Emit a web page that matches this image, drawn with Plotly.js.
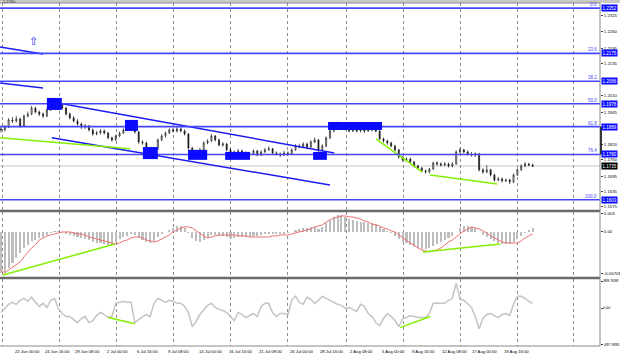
<!DOCTYPE html>
<html><head><meta charset="utf-8">
<script src="https://cdn.plot.ly/plotly-3.0.1.min.js"></script>
<style>html,body{margin:0;padding:0;background:#fff}#c{width:620px;height:357px}</style>
</head><body><div id="c"></div>
<script>
// ---- price data (8h bars) ----
const firstOpen = 1.1880;
const close = [1.1876,1.1887,1.1915,1.1911,1.1919,1.1891,1.1930,1.1938,1.1962,1.1946,
1.1938,1.1930,1.1954,1.1970,1.1989,1.1977,1.1962,1.1938,1.1923,1.1911,
1.1899,1.1887,1.1891,1.1876,1.1860,1.1864,1.1872,1.1864,1.1845,1.1837,
1.1852,1.1864,1.1876,1.1884,1.1899,1.1868,1.1829,1.1825,1.1805,1.1794,
1.1802,1.1837,1.1852,1.1864,1.1876,1.1872,1.1880,1.1872,1.1860,1.1805,
1.1786,1.1790,1.1798,1.1825,1.1833,1.1852,1.1837,1.1817,1.1821,1.1798,
1.1790,1.1786,1.1794,1.1786,1.1778,1.1782,1.1794,1.1778,1.1790,1.1798,
1.1802,1.1786,1.1782,1.1778,1.1786,1.1782,1.1798,1.1813,1.1809,1.1821,
1.1809,1.1829,1.1837,1.1798,1.1813,1.1845,1.1872,1.1891,1.1899,1.1895,
1.1880,1.1872,1.1876,1.1872,1.1876,1.1872,1.1880,1.1876,1.1872,1.1841,
1.1833,1.1825,1.1813,1.1798,1.1770,1.1759,1.1762,1.1751,1.1735,1.1727,
1.1716,1.1712,1.1723,1.1747,1.1743,1.1739,1.1743,1.1735,1.1743,1.1790,
1.1798,1.1790,1.1782,1.1778,1.1782,1.1720,1.1712,1.1720,1.1700,1.1680,
1.1684,1.1677,1.1680,1.1673,1.1700,1.1720,1.1735,1.1743,1.1739,1.1735];
const high = [1.1890,1.1895,1.1922,1.1926,1.1930,1.1924,1.1936,1.1948,1.1970,1.1966,
1.1952,1.1944,1.1960,1.1978,1.1997,1.1993,1.1982,1.1966,1.1944,1.1930,
1.1918,1.1905,1.1899,1.1896,1.1882,1.1872,1.1880,1.1878,1.1868,1.1850,
1.1858,1.1870,1.1882,1.1892,1.1905,1.1903,1.1872,1.1836,1.1830,1.1810,
1.1810,1.1842,1.1860,1.1870,1.1882,1.1884,1.1888,1.1886,1.1878,1.1864,
1.1810,1.1798,1.1806,1.1832,1.1840,1.1860,1.1856,1.1842,1.1828,1.1826,
1.1804,1.1796,1.1802,1.1800,1.1792,1.1790,1.1800,1.1798,1.1796,1.1806,
1.1812,1.1806,1.1792,1.1788,1.1794,1.1792,1.1804,1.1820,1.1822,1.1828,
1.1826,1.1836,1.1846,1.1840,1.1820,1.1850,1.1878,1.1900,1.1908,1.1905,
1.1900,1.1886,1.1884,1.1882,1.1884,1.1882,1.1888,1.1890,1.1895,1.1876,
1.1846,1.1838,1.1830,1.1818,1.1802,1.1774,1.1768,1.1768,1.1755,1.1740,
1.1732,1.1722,1.1728,1.1752,1.1754,1.1750,1.1750,1.1748,1.1750,1.1796,
1.1806,1.1802,1.1796,1.1790,1.1788,1.1786,1.1726,1.1738,1.1724,1.1705,
1.1692,1.1690,1.1686,1.1686,1.1706,1.1726,1.1742,1.1750,1.1748,1.1745];
const low = [1.1866,1.1870,1.1883,1.1903,1.1905,1.1884,1.1888,1.1925,1.1934,1.1940,
1.1930,1.1922,1.1926,1.1950,1.1965,1.1970,1.1955,1.1932,1.1917,1.1905,
1.1893,1.1880,1.1880,1.1870,1.1853,1.1855,1.1858,1.1858,1.1840,1.1830,
1.1833,1.1848,1.1860,1.1872,1.1880,1.1862,1.1822,1.1818,1.1798,1.1785,
1.1788,1.1798,1.1832,1.1846,1.1860,1.1866,1.1866,1.1866,1.1854,1.1798,
1.1780,1.1780,1.1784,1.1794,1.1820,1.1828,1.1830,1.1812,1.1810,1.1792,
1.1784,1.1778,1.1780,1.1780,1.1772,1.1774,1.1778,1.1772,1.1774,1.1786,
1.1794,1.1780,1.1776,1.1770,1.1774,1.1776,1.1778,1.1794,1.1804,1.1804,
1.1800,1.1804,1.1824,1.1790,1.1792,1.1808,1.1840,1.1866,1.1886,1.1888,
1.1874,1.1866,1.1868,1.1866,1.1866,1.1864,1.1868,1.1870,1.1866,1.1836,
1.1826,1.1818,1.1808,1.1792,1.1764,1.1752,1.1752,1.1745,1.1729,1.1720,
1.1710,1.1705,1.1706,1.1720,1.1736,1.1733,1.1734,1.1729,1.1730,1.1740,
1.1784,1.1784,1.1776,1.1772,1.1770,1.1714,1.1704,1.1706,1.1694,1.1674,
1.1676,1.1670,1.1672,1.1664,1.1668,1.1696,1.1716,1.1730,1.1734,1.1731];

// ---- MACD (histogram = main, red = signal) ----
const macdMain = [-0.00656,-0.00640,-0.00577,-0.00498,-0.00418,-0.00339,-0.00260,-0.00212,-0.00149,-0.00133,
-0.00101,-0.00086,-0.00054,-0.00022,0.00010,0.00010,-0.00022,-0.00038,-0.00054,-0.00070,
-0.00086,-0.00101,-0.00117,-0.00133,-0.00165,-0.00181,-0.00181,-0.00196,-0.00212,-0.00212,
-0.00165,-0.00117,-0.00086,-0.00070,-0.00038,-0.00054,-0.00101,-0.00133,-0.00165,-0.00181,
-0.00149,-0.00086,-0.00038,-0.00006,0.00025,0.00057,0.00089,0.00089,0.00057,-0.00022,
-0.00101,-0.00149,-0.00165,-0.00133,-0.00101,-0.00054,-0.00054,-0.00070,-0.00070,-0.00086,
-0.00101,-0.00101,-0.00086,-0.00086,-0.00086,-0.00086,-0.00070,-0.00070,-0.00054,-0.00038,
-0.00038,-0.00038,-0.00038,-0.00038,-0.00038,-0.00022,-0.00006,0.00025,0.00041,0.00057,
0.00057,0.00073,0.00073,0.00041,0.00073,0.00136,0.00184,0.00231,0.00263,0.00263,
0.00231,0.00200,0.00184,0.00168,0.00152,0.00152,0.00136,0.00136,0.00120,0.00073,
0.00041,0.00010,-0.00022,-0.00070,-0.00117,-0.00165,-0.00181,-0.00212,-0.00244,-0.00260,
-0.00276,-0.00276,-0.00260,-0.00228,-0.00196,-0.00165,-0.00133,-0.00101,-0.00070,-0.00006,
0.00057,0.00089,0.00089,0.00073,0.00057,-0.00006,-0.00054,-0.00086,-0.00117,-0.00149,
-0.00181,-0.00196,-0.00196,-0.00196,-0.00165,-0.00117,-0.00070,-0.00022,0.00025,0.00057];
const macdSignal = [-0.00608,-0.00656,-0.00608,-0.00561,-0.00529,-0.00482,-0.00402,-0.00323,-0.00260,-0.00212,
-0.00133,-0.00101,-0.00070,-0.00054,-0.00038,-0.00022,-0.00006,-0.00006,-0.00006,-0.00022,
-0.00038,-0.00038,-0.00054,-0.00086,-0.00101,-0.00117,-0.00133,-0.00149,-0.00165,-0.00181,
-0.00196,-0.00181,-0.00149,-0.00133,-0.00101,-0.00086,-0.00086,-0.00101,-0.00133,-0.00149,
-0.00165,-0.00149,-0.00117,-0.00086,-0.00054,-0.00006,0.00025,0.00057,0.00073,0.00073,
0.00057,0.00010,-0.00022,-0.00070,-0.00101,-0.00086,-0.00070,-0.00054,-0.00054,-0.00054,
-0.00054,-0.00054,-0.00070,-0.00070,-0.00070,-0.00086,-0.00086,-0.00086,-0.00086,-0.00086,
-0.00086,-0.00070,-0.00070,-0.00054,-0.00054,-0.00054,-0.00038,-0.00022,-0.00006,0.00010,
0.00025,0.00041,0.00073,0.00089,0.00105,0.00152,0.00184,0.00215,0.00231,0.00247,
0.00247,0.00231,0.00231,0.00215,0.00200,0.00168,0.00152,0.00120,0.00105,0.00089,
0.00057,0.00041,0.00010,-0.00006,-0.00054,-0.00101,-0.00133,-0.00181,-0.00212,-0.00260,
-0.00292,-0.00307,-0.00323,-0.00307,-0.00292,-0.00260,-0.00212,-0.00165,-0.00133,-0.00086,
-0.00038,0.00010,0.00041,0.00073,0.00057,0.00041,0.00010,-0.00022,-0.00070,-0.00101,
-0.00133,-0.00165,-0.00181,-0.00181,-0.00181,-0.00181,-0.00149,-0.00101,-0.00070,-0.00038];

// ---- CCI ----
const cci = [-54,0,54,81,54,108,134,94,148,81,
27,67,13,108,134,0,-67,-108,-108,-148,
-188,-134,-108,-188,-161,-94,-54,-81,-121,-108,
67,81,94,81,81,-188,-148,-108,-81,-108,
67,134,108,81,108,94,67,67,27,-54,
-242,-175,-81,-13,40,67,13,-13,-27,-54,
-108,-161,-54,-81,-121,-94,-67,-108,27,67,
67,-54,-108,-67,-67,-81,108,161,81,54,
148,121,67,108,161,134,108,81,54,40,
0,13,-13,-40,54,27,-67,-108,-188,-228,
-134,-67,-108,-161,-242,-134,-121,-94,-108,-121,
-121,-121,-67,67,67,67,67,108,134,336,
121,108,54,13,-108,-269,-134,-81,-67,-94,
-121,-81,-67,-94,54,161,161,134,94,67];

// ---- Fibonacci levels ----
const fibPct = ["0.0","23.6","38.2","50.0","61.8","76.4","100.0"];
const fibPrice = [1.2352,1.2175,1.2066,1.1978,1.1889,1.1780,1.1603];

// ---- drawn objects (bar index, price) ----
const boxX0 = [12.0,32.4,37.1,48.9,58.6,81.6,85.5];
const boxX1 = [15.9,35.8,41.0,53.9,65.1,85.2,99.6];
const boxLo = [1.1954,1.1872,1.1762,1.1759,1.1759,1.1759,1.1876];
const boxHi = [1.2001,1.1915,1.1809,1.1798,1.1790,1.1790,1.1907];
const channelUpX = [14.9,87.1], channelUpY = [1.1981,1.1786];
const channelLoX = [13.3,86.0], channelLoY = [1.1845,1.1661];
const oldLine1X = [-0.26,11.0], oldLine1Y = [1.2200,1.2173];
const oldLine2X = [-0.26,11.0], oldLine2Y = [1.2059,1.2040];
const greenPriceA_X = [-0.26,33.8], greenPriceA_Y = [1.1845,1.1802];
const greenPriceB_X = [98.0,110.1], greenPriceB_Y = [1.1841,1.1712];
const greenPriceC_X = [112.2,129.7], greenPriceC_Y = [1.1700,1.1665];
const greenMacdA_X = [0.5,29.8], greenMacdA_Y = [-0.00688,-0.00196];
const greenMacdB_X = [110.3,130.5], greenMacdB_Y = [-0.00323,-0.00196];
const greenCciA_X = [28.0,35.0], greenCciA_Y = [-121,-202];
const greenCciB_X = [104.3,112.2], greenCciB_Y = [-255,-108];
const arrowPos = [8.6,1.2222];
const lastPrice = 1.1735;

// ---- axis labels ----
const priceTicks = [1.2325,1.2260,1.2195,1.2135,1.2010,1.1945,1.1820,1.1760,1.1695,1.1635,1.1575];
const macdTickVals = [0.0029,0,-0.0067], macdTickText = ["0.003","0.00","-0.00708"];
const cciTickVals = [362,0,-484], cciTickText = ["389.7638","0.00","-497.9391"];
const dateLabels = ["22 Jun 00:00","24 Jun 16:00","29 Jun 08:00","2 Jul 00:00","6 Jul 16:00","9 Jul 08:00","14 Jul 00:00","16 Jul 16:00","21 Jul 08:00","26 Jul 00:00","28 Jul 16:00","2 Aug 08:00","5 Aug 00:00","9 Aug 16:00","12 Aug 08:00","17 Aug 00:00","19 Aug 16:00"];
const dateIdx = [3.1,11.0,18.8,27.2,35.0,43.1,51.2,59.1,66.9,75.0,82.9,90.7,99.1,107.0,114.8,122.6,131.0];
const gridIdx = [0.52,15.4,30.3,45.2,60.1,75.0,90.2,105.1,120.0,134.9,149.8];

const idx = close.map((_, i) => i);
const open = [firstOpen].concat(close.slice(0, -1));

const BLUE = '#4646ff', DBLUE = '#1c1cf0', BOX = '#0a0aff', GREEN = '#84f000';
const traces = [];
traces.push({type:'candlestick', x:idx, open:open, high:high, low:low, close:close,
  increasing:{line:{color:'#1a1a1a',width:0.7}, fillcolor:'#ffffff'},
  decreasing:{line:{color:'#1a1a1a',width:0.7}, fillcolor:'#1a1a1a'},
  whiskerwidth:0, hoverinfo:'skip', xaxis:'x', yaxis:'y'});
function seg(x, y, color, ax, w) {
  traces.push({type:'scatter', mode:'lines', x:x, y:y, line:{color:color, width:w||1.5}, xaxis:'x', yaxis:ax, hoverinfo:'skip'});
}
seg(channelUpX, channelUpY, DBLUE, 'y');
seg(channelLoX, channelLoY, DBLUE, 'y');
seg(oldLine1X, oldLine1Y, DBLUE, 'y');
seg(oldLine2X, oldLine2Y, DBLUE, 'y');
seg(greenPriceA_X, greenPriceA_Y, GREEN, 'y');
seg(greenPriceB_X, greenPriceB_Y, GREEN, 'y');
seg(greenPriceC_X, greenPriceC_Y, GREEN, 'y');
traces.push({type:'bar', x:idx, y:macdMain, width:0.55, marker:{color:'#bdbdbd', line:{width:0}}, xaxis:'x', yaxis:'y2', hoverinfo:'skip'});
traces.push({type:'scatter', mode:'lines', x:idx, y:macdSignal, line:{color:'#f07070', width:1}, xaxis:'x', yaxis:'y2', hoverinfo:'skip'});
seg(greenMacdA_X, greenMacdA_Y, GREEN, 'y2');
seg(greenMacdB_X, greenMacdB_Y, GREEN, 'y2');
traces.push({type:'scatter', mode:'lines', x:idx, y:cci, line:{color:'#c4c4c4', width:1.5}, xaxis:'x', yaxis:'y3', hoverinfo:'skip'});
seg(greenCciA_X, greenCciA_Y, GREEN, 'y3');
seg(greenCciB_X, greenCciB_Y, GREEN, 'y3');

const H = 343; // plot height in px
const py = px => (346 - px) / H; // page px -> paper y
const shapes = [];
shapes.push({type:'line', xref:'paper', x0:0, x1:1, yref:'y', y0:lastPrice, y1:lastPrice, line:{color:'#c8c8c8', width:1}, layer:'below'});
fibPrice.forEach(p => shapes.push({type:'line', xref:'paper', x0:0, x1:1, yref:'y', y0:p, y1:p, line:{color:BLUE, width:1.6}}));
boxX0.forEach((x0, k) => shapes.push({type:'rect', xref:'x', yref:'y', x0:x0, x1:boxX1[k], y0:boxLo[k], y1:boxHi[k], fillcolor:BOX, line:{width:0}}));
shapes.push({type:'rect', xref:'paper', yref:'paper', x0:0, x1:1.0333, y0:1, y1:1 + 3/H, fillcolor:'#c8c8c8', line:{width:0}});
shapes.push({type:'line', xref:'paper', yref:'paper', x0:0, x1:1, y0:1, y1:1, line:{color:'#8a8a8a', width:1}});
shapes.push({type:'line', xref:'paper', yref:'paper', x0:0, x1:1, y0:py(211), y1:py(211), line:{color:'#6a6a6a', width:2.5}});
shapes.push({type:'line', xref:'paper', yref:'paper', x0:0, x1:1, y0:py(278), y1:py(278), line:{color:'#6a6a6a', width:2.5}});
shapes.push({type:'line', xref:'paper', yref:'paper', x0:0, x1:1, y0:0, y1:0, line:{color:'#8a8a8a', width:1}});
shapes.push({type:'line', xref:'paper', yref:'paper', x0:1, x1:1, y0:0, y1:1, line:{color:'#8a8a8a', width:1}});
shapes.push({type:'line', xref:'paper', yref:'y', x0:1.0017, x1:1.0017, y0:fibPrice[4], y1:fibPrice[5], line:{color:'#000', width:1.5}});

const ann = [];
const fmt4 = v => v.toFixed(4);
fibPrice.forEach((p, k) => {
  ann.push({xref:'paper', yref:'y', x:0.998, y:p, xanchor:'right', yanchor:'bottom', text:fibPct[k], showarrow:false, font:{size:4.5, color:BLUE}, yshift:-1});
  ann.push({xref:'paper', yref:'y', x:1, y:p, xanchor:'left', yanchor:'middle', xshift:1, text:fmt4(p), showarrow:false, bgcolor:BOX, font:{size:4.5, color:'#fff'}, borderpad:0.5});
});
ann.push({xref:'paper', yref:'y', x:1, y:lastPrice, xanchor:'left', yanchor:'middle', xshift:1, text:fmt4(lastPrice), showarrow:false, bgcolor:'#000', font:{size:4.5, color:'#fff'}, borderpad:0.5});
ann.push({xref:'x', yref:'y', x:arrowPos[0], y:arrowPos[1], text:'\u21E7', showarrow:false, font:{size:11, color:DBLUE, family:'DejaVu Sans'}});
dateLabels.forEach((t, k) => ann.push({xref:'x', yref:'paper', x:dateIdx[k], y:py(351), xanchor:'left', yanchor:'middle', text:t, showarrow:false, font:{size:4.2, color:'#000'}}));
ann.push({xref:'paper', yref:'paper', x:0.002, y:1.004, xanchor:'left', yanchor:'middle', text:'1.2760', showarrow:false, font:{size:4, color:'#333'}});
// CCI extreme labels as annotations so they fit inside the 20px strip
cciTickText.forEach((t, k) => ann.push({xref:'paper', yref:'y3', x:1, y:cciTickVals[k], xanchor:'left', yanchor:'middle', xshift:1, text:t, showarrow:false, font:{size:3.7, color:'#000'}}));

const yCommon = {side:'right', anchor:'x', showgrid:false, zeroline:false, ticks:'outside', ticklen:2, tickcolor:'#444', tickfont:{size:4.3, color:'#000'}, fixedrange:true, showline:false};
const layout = {
  width:620, height:357, margin:{l:0, r:20, t:3, b:11}, paper_bgcolor:'#fff', plot_bgcolor:'#fff',
  font:{family:'Liberation Sans', size:5}, showlegend:false, bargap:0, boxgap:0.62,
  xaxis:{range:[-0.26,156.6], anchor:'y3', tickvals:gridIdx, showticklabels:false, ticks:'', showgrid:true, gridcolor:'#8c8c8c', griddash:'dot', gridwidth:1, zeroline:false, rangeslider:{visible:false}, fixedrange:true},
  yaxis:Object.assign({}, yCommon, {domain:[py(210),1], range:[1.1563,1.2372], tickvals:priceTicks, ticktext:priceTicks.map(fmt4)}),
  yaxis2:Object.assign({}, yCommon, {domain:[py(277),py(212)], range:[-0.0072,0.0031], tickvals:macdTickVals, ticktext:macdTickText}),
  yaxis3:Object.assign({}, yCommon, {domain:[0,py(279)], range:[-497.94,389.76], tickvals:cciTickVals, showticklabels:false}),
  shapes:shapes, annotations:ann
};
Plotly.newPlot('c', traces, layout, {staticPlot:true, displayModeBar:false});
</script></body></html>
